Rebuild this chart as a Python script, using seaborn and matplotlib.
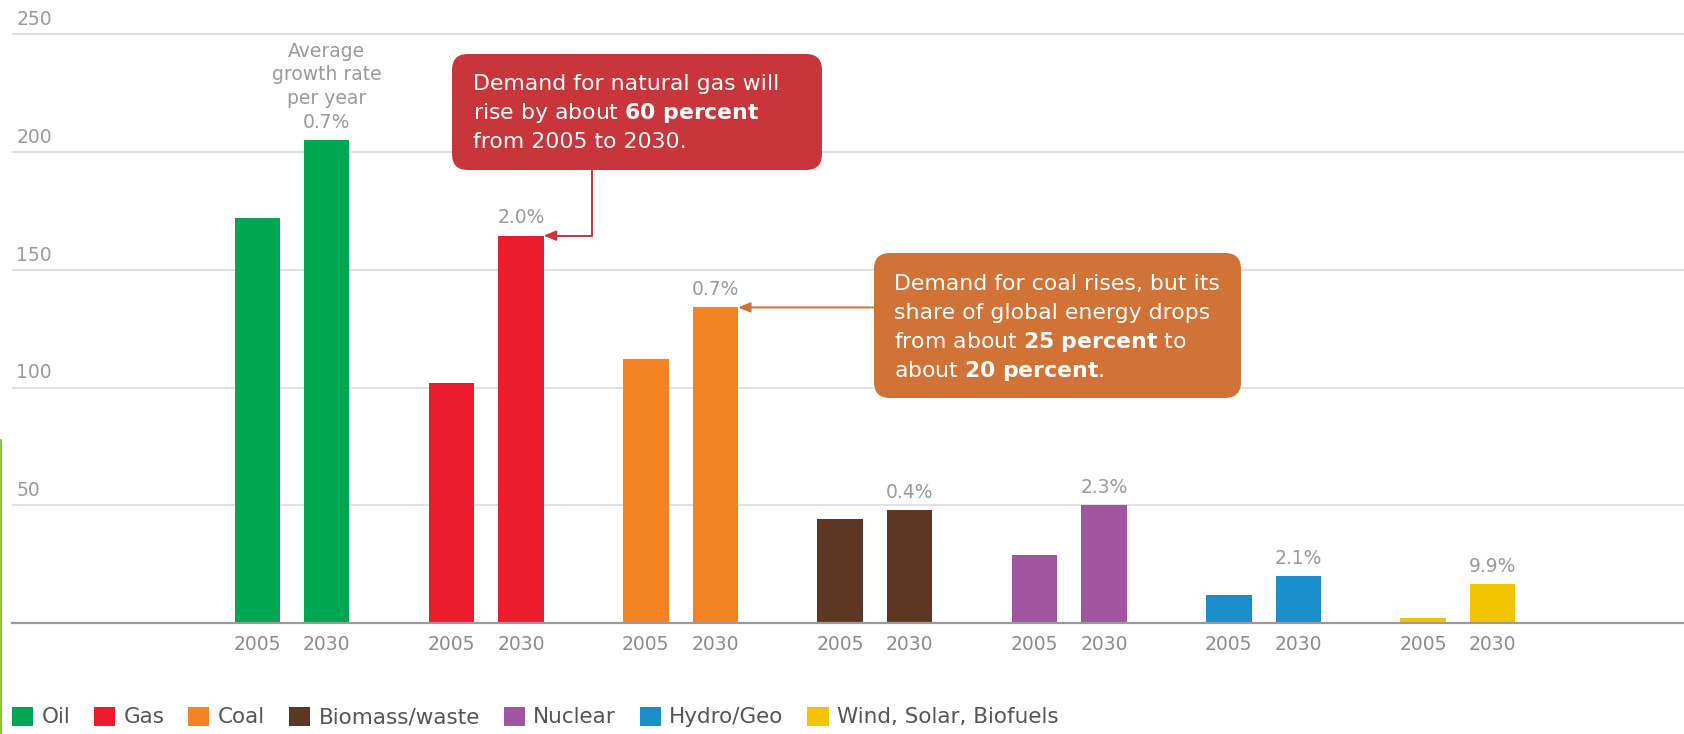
import matplotlib
matplotlib.use("Agg")
import matplotlib.pyplot as plt
import seaborn as sns
import pandas as pd
from matplotlib.patches import FancyBboxPatch, Patch
from matplotlib.lines import Line2D
from matplotlib.transforms import Affine2D

# --- data ---
sources = ["Oil", "Gas", "Coal", "Biomass/waste", "Nuclear", "Hydro/Geo",
           "Wind, Solar, Biofuels"]
years = ["2005", "2030"]
demand_2005 = [172, 102, 112, 44, 29, 12, 2]
demand_2030 = [205, 164.5, 134, 48, 50, 20, 16.5]
growth_rate = ["0.7%", "2.0%", "0.7%", "0.4%", "2.3%", "2.1%", "9.9%"]
colors = ["#00a651", "#ec1c2e", "#f48323", "#5e3723", "#a155a0", "#1b8fcb", "#f3c500"]
y_ticks = [50, 100, 150, 200, 250]

gas_note = ["Demand for natural gas will",
            r"rise by about $\mathbf{60\ percent}$",
            "from 2005 to 2030."]
coal_note = ["Demand for coal rises, but its",
             "share of global energy drops",
             r"from about $\mathbf{25\ percent}$ to",
             r"about $\mathbf{20\ percent}$."]

df = pd.DataFrame({
    "source": sources * 2,
    "year": [years[0]] * len(sources) + [years[1]] * len(sources),
    "demand": demand_2005 + demand_2030,
})

sns.set_style("white")
plt.rcParams["font.family"] = ["DejaVu Sans"]

W, H = 1684, 734
fig = plt.figure(figsize=(W / 100, H / 100), dpi=100)
ax = fig.add_axes([12 / W, 1 - 623 / H, 1 - 12 / W, 600.5 / H])
# pixel coords measured from the top-left corner of the image
pix = Affine2D().scale(1 / W, -1 / H).translate(0, 1) + fig.transFigure

sns.barplot(data=df, x="source", y="demand", hue="year", ax=ax,
            width=0.715, gap=0.345, errorbar=None, saturation=1,
            legend=False, linewidth=0)

# colour each pair by energy source
for cont in ax.containers:
    for i, bar in enumerate(cont):
        bar.set_facecolor(colors[i])

ax.set_xlim(-1.441, 7.164)
ax.set_ylim(0, 255)
ax.set_yticks([0] + y_ticks)
ax.set_xticks([])
ax.set_xlabel("")
ax.set_ylabel("")
ax.tick_params(axis="y", length=0, labelleft=False)
ax.yaxis.grid(True, color="#dcdcdc", lw=1.2)
ax.set_axisbelow(True)
for side in ["left", "right", "top"]:
    ax.spines[side].set_visible(False)
ax.spines["bottom"].set_color("#9a9a9a")
ax.spines["bottom"].set_linewidth(1.6)

# y labels sit above their gridlines
for v in y_ticks:
    ax.annotate(str(v), xy=(0, v), xycoords=("axes fraction", "data"),
                xytext=(3, 6.5), textcoords="offset points",
                ha="left", va="baseline", fontsize=13.5, color="#9a9a9a")

# year labels under every bar
for j, cont in enumerate(ax.containers):
    for bar in cont:
        cx = bar.get_x() + bar.get_width() / 2
        ax.annotate(years[j], xy=(cx, 0), xytext=(0, -8.5),
                    textcoords="offset points", ha="center", va="top",
                    fontsize=13.5, color="#8c8c8c", annotation_clip=False)

# growth rate labels above the 2030 bars
for i, bar in enumerate(ax.containers[1]):
    label = growth_rate[i]
    if i == 0:
        label = "Average\ngrowth rate\nper year\n" + label
    cx = bar.get_x() + bar.get_width() / 2
    ax.annotate(label, xy=(cx, bar.get_height()), xytext=(0, 6),
                textcoords="offset points", ha="center", va="bottom",
                fontsize=13.5, color="#9a9a9a", linespacing=1.32,
                annotation_clip=False)

# callouts
red = "#c8353a"
orange = "#d17236"
gas_bar = ax.containers[1][1]
coal_bar = ax.containers[1][2]

ax.annotate("", xy=(gas_bar.get_x() + gas_bar.get_width(), gas_bar.get_height()),
            xytext=(592, 170), textcoords=pix,
            arrowprops=dict(arrowstyle="-|>,head_length=0.6,head_width=0.25",
                            mutation_scale=12, color=red, lw=1.4,
                            shrinkA=0, shrinkB=0,
                            connectionstyle="angle,angleA=90,angleB=0,rad=0"))
ax.annotate("", xy=(coal_bar.get_x() + coal_bar.get_width(), coal_bar.get_height()),
            xytext=(874, coal_bar.get_height()), textcoords=("figure pixels", "data"),
            arrowprops=dict(arrowstyle="-|>,head_length=0.6,head_width=0.25",
                            mutation_scale=12, color=orange, lw=1.4,
                            shrinkA=0, shrinkB=0))

fig.add_artist(FancyBboxPatch((452, 54), 370, 116,
                              boxstyle="round,pad=0,rounding_size=16",
                              transform=pix, fc=red, ec="none"))
for k, line in enumerate(gas_note):
    fig.text(473, 90 + 29 * k, line, transform=pix, color="white",
             fontsize=15.8, ha="left", va="baseline")

fig.add_artist(FancyBboxPatch((874, 253), 367, 145,
                              boxstyle="round,pad=0,rounding_size=16",
                              transform=pix, fc=orange, ec="none"))
for k, line in enumerate(coal_note):
    fig.text(894, 290 + 29 * k, line, transform=pix, color="white",
             fontsize=15.8, ha="left", va="baseline")

# legend along the bottom
handles = [Patch(facecolor=c, edgecolor="none") for c in colors]
fig.legend(handles, sources, loc="center left",
           bbox_to_anchor=(11.7 / W, 1 - 717 / H), ncol=len(sources),
           frameon=False, fontsize=15.5, handlelength=0.98, handleheight=0.98,
           handletextpad=0.4, columnspacing=1.1, borderpad=0, borderaxespad=0,
           labelcolor="#555555")

# thin green edge seen on the left of the original
fig.add_artist(Line2D([1, 1], [440, 734], transform=pix, color="#8cc63f", lw=1.5))

fig.savefig("out.png", dpi=100)
